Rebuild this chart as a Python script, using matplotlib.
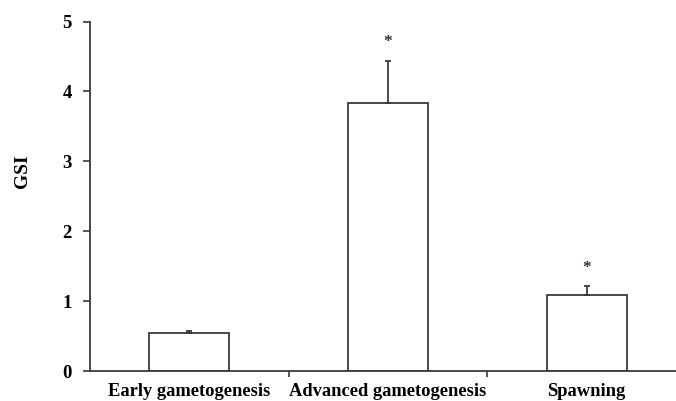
import matplotlib
matplotlib.use("Agg")
import matplotlib.pyplot as plt
import numpy as np

# GSI per reproductive stage (mean + SE)
stages = ["Early gametogenesis", "Advanced gametogenesis", "Spawning"]
gsi_mean = [0.54, 3.84, 1.09]
gsi_se = [0.03, 0.60, 0.12]
significant = [False, True, True]
yticks = [0, 1, 2, 3, 4, 5]

plt.rcParams["font.family"] = ["Liberation Serif", "DejaVu Serif"]
plt.rcParams["font.weight"] = "bold"

line_col = "#3a3a3a"
W, H = 676, 401
fig = plt.figure(figsize=(W / 100, H / 100), dpi=100)
ax = fig.add_axes([90 / W, 1 - 371 / H, (686 - 90) / W, (371 - 21.5) / H])

x = np.arange(len(stages))
ax.bar(x, gsi_mean, width=0.404, color="white", edgecolor=line_col, linewidth=1.3, zorder=2)
ax.errorbar(x, gsi_mean, yerr=[np.zeros(len(x)), gsi_se], fmt="none",
            ecolor=line_col, elinewidth=1.3, capsize=2.5, capthick=1.3, zorder=3)

for xi, m, e, sig in zip(x, gsi_mean, gsi_se, significant):
    if sig:
        ax.text(xi, m + e + 0.26, "*", ha="center", va="center", fontsize=12.5,
                color="#333333")

ax.set_xlim(-0.5, 2.5)
ax.set_ylim(0, 5)
ax.set_yticks(yticks)
ax.set_yticklabels([str(t) for t in yticks], fontsize=13.5, fontweight="bold")
ax.set_xticks(x)
ax.set_xticklabels(stages, fontsize=13.3, fontweight="bold")
ax.set_xticks([0.5, 1.5], minor=True)
ax.tick_params(axis="x", which="major", length=0, pad=8.5)
ax.tick_params(axis="x", which="minor", length=4, width=1.2, color=line_col, direction="out")
ax.tick_params(axis="y", length=5, width=1.2, color=line_col, direction="out", pad=8)

for side in ["top", "right"]:
    ax.spines[side].set_visible(False)
for side in ["left", "bottom"]:
    ax.spines[side].set_color(line_col)
    ax.spines[side].set_linewidth(1.3)

fig.text(23 / W, 1 - 171 / H, "GSI", rotation=90, ha="center", va="center",
         fontsize=14, fontweight="bold")

fig.savefig("out.png", dpi=100)
